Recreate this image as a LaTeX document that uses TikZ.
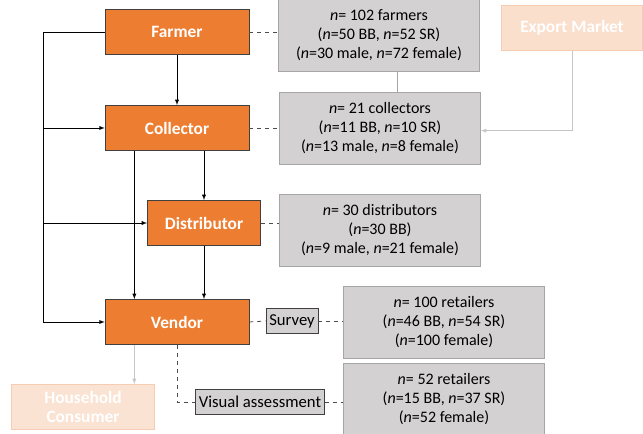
\documentclass[tikz,border=0pt]{standalone}
\usepackage{fontspec}
\setmainfont{Carlito}
\usepackage{xcolor}
\usepackage{tikz}
\usetikzlibrary{positioning}
\usetikzlibrary{shapes, arrows, positioning}

\definecolor{chainorange}{HTML}{ED7D31}
\definecolor{infogray}{HTML}{D3D1D1}
\definecolor{fadefill}{HTML}{FBE3D3}
\definecolor{fadeline}{HTML}{F6CDB2}
\newcommand{\nn}{\textit{n}}

\begin{document}
\begin{tikzpicture}[
    x=0.75pt, y=-0.75pt,% pixel grid, y downwards
    >=latex,
    font=\fontsize{12}{14}\selectfont,
      actor/.style = {draw=black!75, fill=chainorange, text=white, font=\fontsize{13}{15}\selectfont\bfseries,
                      minimum width=108pt, minimum height=34pt},% chain nodes
     sample/.style = {draw=gray!70, fill=infogray, align=center, minimum width=151pt, minimum height=54pt},% sample boxes
     method/.style = {draw=black!75, fill=infogray, inner sep=2.5pt, minimum height=19pt, font=\fontsize{12.5}{14}\selectfont},
      faded/.style = {draw=fadeline, fill=fadefill, text=white, align=center, font=\fontsize{13}{14.5}\selectfont\bfseries,
                      minimum width=107pt, minimum height=34pt}
    ]
    \useasboundingbox (0,0) rectangle (643,434);
    % value chain
    \node (farmer) [actor] at (177,32) {Farmer};
    \node (collector) [actor] at (177,128) {Collector};
    \node (distributor) [actor, minimum width=85pt] at (204,223) {Distributor};
    \node (vendor) [actor] at (177,322) {Vendor};
    \node (household) [faded] at (83,407) {Household\\Consumer};
    \node (export) [faded, minimum width=106pt, fill=fadefill!80!fadeline] at (572,28) {Export Market};
    % samples
    \node (farmerinfo) [sample] at (379,35) {\nn= 102 farmers\\(\nn=50 BB, \nn=52 SR)\\(\nn=30 male, \nn=72 female)};
    \node (collectorinfo) [sample] at (380,128) {\nn= 21 collectors\\(\nn=11 BB, \nn=10 SR)\\(\nn=13 male, \nn=8 female)};
    \node (distributorinfo) [sample] at (380,230) {\nn= 30 distributors\\(\nn=30 BB)\\(\nn=9 male, \nn=21 female)};
    \node (survey) [method] at (292,321) {Survey};
    \node (visual) [method] at (260,402) {Visual assessment};
    \node (surveyinfo) [sample] at (444,322) {\nn= 100 retailers\\(\nn=46 BB, \nn=54 SR)\\(\nn=100 female)};
    \node (visualinfo) [sample] at (444,399) {\nn= 52 retailers\\(\nn=15 BB, \nn=37 SR)\\(\nn=52 female)};
    % flows
    \coordinate (bus) at (43,32);
    \draw[->] (farmer) -- (collector);
    \draw[->] (farmer.west) -- (bus) |- (vendor.west);
    \draw[->] (bus |- collector.west) -- (collector.west);
    \draw[->] (bus |- distributor.west) -- (distributor.west);
    \draw[->] (collector.south -| distributor.north) -- (distributor.north);
    \draw[->] ([xshift=-32pt]collector.south) -- ([xshift=-32pt]vendor.north);
    \draw[->] (distributor.south) -- (distributor.south |- vendor.north);
    \draw[->, gray!45] ([xshift=-32pt]vendor.south) -- ([xshift=-32pt]vendor.south |- household.north);
    \draw[->, gray!45] (export.south) |- ([yshift=-2pt]collectorinfo.east);
    \draw[gray!70] ([xshift=14pt]farmerinfo.south) -- ([xshift=14pt]farmerinfo.south |- collectorinfo.north);
    % sampling links
    \draw[dashed, semithick, black!70] (farmer.east) -- (farmerinfo.west |- farmer.east);
    \draw[dashed, semithick, black!70] (collector.east) -- (collectorinfo.west);
    \draw[dashed, semithick, black!70] (distributor.east) -- (distributor.east -| distributorinfo.west);
    \draw[dashed, semithick, black!70] (vendor.east) -- (survey.west);
    \draw[dashed, semithick, black!70] (survey.east) -- (survey.east -| surveyinfo.west);
    \draw[dashed, semithick, black!70] (vendor.south) |- (visual.west);
    \draw[dashed, semithick, black!70] (visual.east) -- (visual.east -| visualinfo.west);
\end{tikzpicture}
\end{document}
